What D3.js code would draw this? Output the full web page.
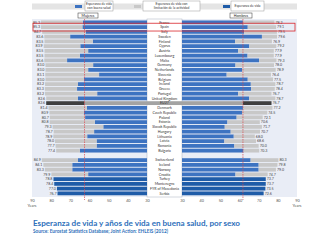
<!DOCTYPE html>
<html>
<head>
<meta charset="utf-8">
<script src="https://cdn.jsdelivr.net/npm/d3@7"></script>
<style>
  body { margin: 0; background: #fff; }
  svg { display: block; font-family: Lato, "Open Sans", sans-serif; }
</style>
</head>
<body>
<div id="chart"></div>
<script>
// rows top to bottom; "" is the blank row between EU and the other countries
var countries = ["France", "Spain", "Italy", "Sweden", "Finland", "Cyprus", "Austria", "Luxembourg",
  "Malta", "Germany", "Netherlands", "Slovenia", "Belgium", "Ireland", "Greece", "Portugal",
  "United Kingdom", "EU27", "Denmark", "Czech Republic", "Poland", "Estonia", "Slovak Republic",
  "Hungary", "Lithuania", "Latvia", "Romania", "Bulgaria", "",
  "Switzerland", "Iceland", "Norway", "Croatia", "Turkey", "Montenegro", "FYR of Macedonia", "Serbia"];

var womenLE = [85.3, 85.3, 84.7, 83.6, 83.5, 83.9, 83.5, 83.5, 83.6, 83.0, 83.0, 83.1, 83.0, 83.2, 83.3, 83.2,
  82.6, 82.6, 81.4, 80.9, 80.7, 80.8, 79.3, 78.7, 78.9, 78.0, 77.7, 77.4, null,
  84.9, 84.1, 83.3, 79.9, 78.8, 78.4, 77.0, 76.7];
var womenHLY = [63.5, 63.7, 62.0, 70.1, 58.3, 64.8, 60.7, 65.0, 71.7, 58.1, 60.7, 55.0, 63.0, 66.0, 66.5, 56.0,
  66.0, 62.6, 61.4, 63.0, 62.3, 57.2, 52.8, 57.6, 61.2, 56.3, 56.3, 65.0, null,
  66.0, 69.0, 69.0, 60.7, null, null, null, null];
var menLE = [78.2, 79.1, 79.5, 79.6, 76.9, 79.2, 77.9, 77.9, 79.3, 78.0, 78.9, 76.4, 77.5, 78.7, 78.4, 76.7,
  78.7, 76.7, 77.2, 74.5, 72.1, 70.6, 71.7, 70.7, 68.0, 68.6, 70.0, 70.3, null,
  80.3, 79.8, 79.0, 74.7, 73.7, 73.7, 73.5, 72.6];
var menHLY = [61.8, 64.3, 62.4, 71.7, 57.7, 65.1, 59.3, 64.2, 70.2, 57.9, 61.4, 53.3, 64.3, 65.9, 66.1, 59.3,
  65.0, 61.8, 61.8, 61.3, 58.5, 53.7, 52.3, 55.4, 57.0, 52.1, 57.3, 62.1, null,
  65.8, 70.0, 70.0, 57.9, null, null, null, null];

var ticks = [30, 40, 50, 60, 70, 80, 90];
var euWomenHLY = 62.6, euMenHLY = 61.8;
var highlighted = "Spain";
var legendLabels = [["Esperanza de vida", "con buena salud"],
  ["Esperanza de vida con", "limitación de la actividad"],
  ["Esperanza de vida"]];

var w = 320, h = 240;
var colHealthy = "#3d73c1", colLimit = "#c8c8c8", colLEonly = "#1f5ca8";
var euHealthy = "#a3a3a3", euLimit = "#3f3f3f";

var svg = d3.select("#chart").append("svg").attr("width", w).attr("height", h);

var xL = d3.scaleLinear().domain([30, 90]).range([147, 32]);
var xR = d3.scaleLinear().domain([30, 90]).range([182, 297]);
var y = d3.scaleBand().domain(d3.range(countries.length))
  .range([20, 20 + countries.length * 4.75]).paddingInner(0.2).paddingOuter(0.1);
var bw = y.bandwidth();
var euIdx = countries.indexOf("EU27");

// panel backgrounds
svg.append("rect").attr("x", 32).attr("y", 19).attr("width", 115).attr("height", 178).attr("fill", "#e9edf6");
svg.append("rect").attr("x", 182).attr("y", 19).attr("width", 115).attr("height", 178).attr("fill", "#e9edf6");
svg.append("rect").attr("x", 147).attr("y", 19).attr("width", 35).attr("height", 178)
  .attr("fill", "#fff").attr("stroke", "#a9b0be").attr("stroke-width", 0.5);

function drawSide(x, le, hly, left) {
  var g = svg.append("g");
  var rows = d3.range(countries.length).filter(function(i) { return le[i] != null; });
  function span(a, b) { return { x: Math.min(x(a), x(b)), w: Math.abs(x(a) - x(b)) }; }

  // healthy part (or whole bar when only life expectancy is known)
  g.selectAll(".inner").data(rows).enter().append("rect")
    .attr("x", function(i) { return span(30, hly[i] != null ? hly[i] : le[i]).x; })
    .attr("width", function(i) { return span(30, hly[i] != null ? hly[i] : le[i]).w; })
    .attr("y", function(i) { return y(i); })
    .attr("height", bw)
    .attr("fill", function(i) {
      if (i === euIdx) return euHealthy;
      return hly[i] != null ? colHealthy : colLEonly;
    });

  // years with activity limitation
  g.selectAll(".outer").data(rows.filter(function(i) { return hly[i] != null; })).enter().append("rect")
    .attr("x", function(i) { return span(hly[i], le[i]).x; })
    .attr("width", function(i) { return span(hly[i], le[i]).w; })
    .attr("y", function(i) { return y(i); })
    .attr("height", bw)
    .attr("fill", function(i) { return i === euIdx ? euLimit : colLimit; });

  g.selectAll(".val").data(rows).enter().append("text")
    .attr("x", function(i) { return x(le[i]) + (left ? -1 : 1); })
    .attr("y", function(i) { return y(i) + bw / 2 + 1.3; })
    .attr("text-anchor", left ? "end" : "start")
    .attr("font-size", 3.6)
    .attr("fill", "#444")
    .text(function(i) { return d3.format(".1f")(le[i]); });
}

drawSide(xL, womenLE, womenHLY, true);
drawSide(xR, menLE, menHLY, false);

// EU27 row across the label column
svg.append("rect").attr("x", 147).attr("y", y(euIdx)).attr("width", 35).attr("height", bw).attr("fill", euHealthy);

// country names
svg.append("g").selectAll("text").data(countries).enter().append("text")
  .attr("x", 164.5)
  .attr("y", function(d, i) { return y(i) + bw / 2 + 1.3; })
  .attr("text-anchor", "middle")
  .attr("font-size", 3.6)
  .attr("fill", "#333")
  .text(function(d) { return d; });

// EU average of healthy years
[[xL, euWomenHLY], [xR, euMenHLY]].forEach(function(p) {
  svg.append("line").attr("x1", p[0](p[1])).attr("x2", p[0](p[1]))
    .attr("y1", 19).attr("y2", 200)
    .attr("stroke", "#e0474c").attr("stroke-width", 0.7).attr("stroke-dasharray", "1.5,1");
});

// highlight box
var hi = countries.indexOf(highlighted);
svg.append("rect").attr("x", 33).attr("y", y(hi) - 2).attr("width", 262).attr("height", bw + 4)
  .attr("fill", "none").attr("stroke", "#d9262b").attr("stroke-width", 0.8);

// axes
[xL, xR].forEach(function(x) {
  var ax = svg.append("g").attr("transform", "translate(0,199.5)")
    .call(d3.axisBottom(x).tickValues(ticks).tickSize(0).tickPadding(0).tickFormat(d3.format("d")));
  ax.select(".domain").remove();
  ax.selectAll("text").attr("font-size", 3.8).attr("fill", "#555").attr("font-family", "Lato, sans-serif");
});
svg.append("text").attr("x", 32).attr("y", 207).attr("text-anchor", "middle").attr("font-size", 3.8).attr("fill", "#555").text("Years");
svg.append("text").attr("x", 297).attr("y", 207).attr("text-anchor", "middle").attr("font-size", 3.8).attr("fill", "#555").text("Years");

// legend
svg.append("rect").attr("x", 32).attr("y", 3.5).attr("width", 265).attr("height", 6).attr("fill", "#e4e4e4");
var legendItems = [
  { sw: 75, box: 85, bw: 28, fill: colHealthy },
  { sw: 134, box: 143, bw: 57, fill: colLimit },
  { sw: 223, box: 231, bw: 33, fill: colLEonly }
];
legendItems.forEach(function(d, k) {
  svg.append("rect").attr("x", d.sw).attr("y", 5).attr("width", 7).attr("height", 3).attr("fill", d.fill);
  svg.append("rect").attr("x", d.box).attr("y", 1).attr("width", d.bw).attr("height", 10)
    .attr("fill", "#fff").attr("stroke", "#9a9a9a").attr("stroke-width", 0.5);
  var lines = legendLabels[k];
  lines.forEach(function(t, j) {
    svg.append("text").attr("x", d.box + d.bw / 2)
      .attr("y", lines.length === 1 ? 7.3 : 5.4 + j * 3.8)
      .attr("text-anchor", "middle").attr("font-size", 3.3).attr("fill", "#333").text(t);
  });
});

// sex headers
[["Mujeres", 78, 20], ["Hombres", 230, 22]].forEach(function(d) {
  svg.append("rect").attr("x", d[1]).attr("y", 13).attr("width", d[2]).attr("height", 5)
    .attr("fill", "#fff").attr("stroke", "#333").attr("stroke-width", 0.5);
  svg.append("text").attr("x", d[1] + d[2] / 2).attr("y", 16.8).attr("text-anchor", "middle")
    .attr("font-size", 3.6).attr("fill", "#222").text(d[0]);
});

// title and source
svg.append("text").attr("x", 33).attr("y", 225.5)
  .attr("font-size", 7.5).attr("font-weight", "bold").attr("fill", "#2e6fba")
  .attr("textLength", 207).attr("lengthAdjust", "spacingAndGlyphs")
  .text("Esperanza de vida y años de vida en buena salud, por sexo");
svg.append("text").attr("x", 33).attr("y", 233)
  .attr("font-size", 5).attr("font-weight", "bold").attr("fill", "#2e6fba")
  .attr("textLength", 135).attr("lengthAdjust", "spacingAndGlyphs")
  .text("Source: Eurostat Statistics Database; Joint Action: EHLEIS (2012)");
</script>
</body>
</html>
